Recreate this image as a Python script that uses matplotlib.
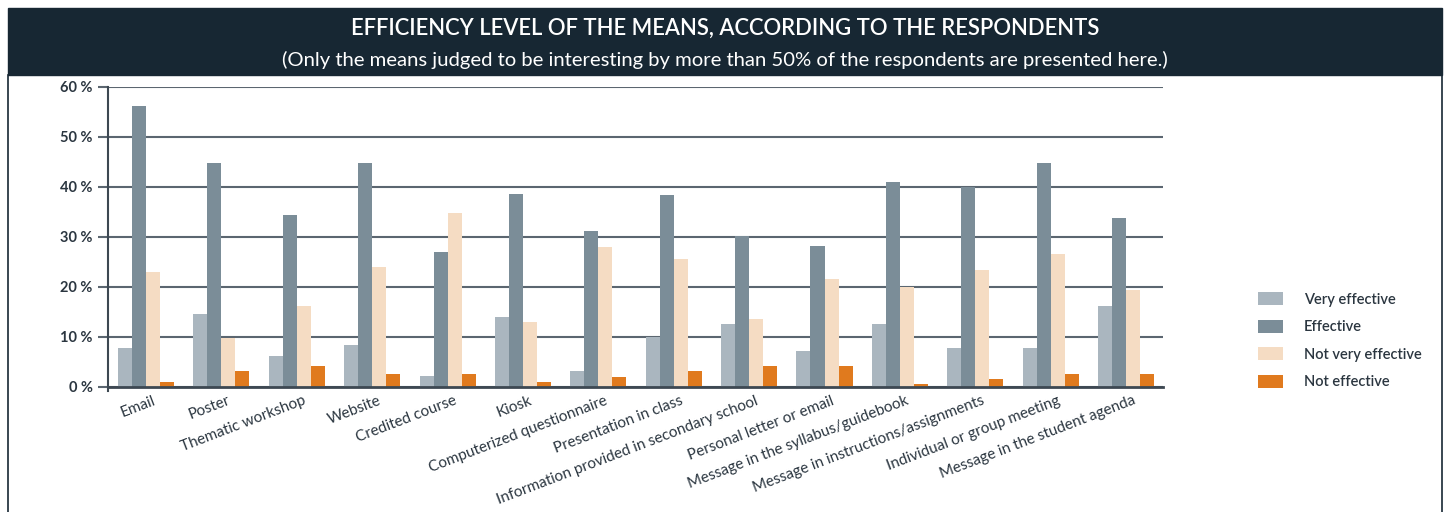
import matplotlib.pyplot as plt
import numpy as np
from matplotlib.patches import Rectangle

plt.rcParams['font.family'] = ['Lato', 'DejaVu Sans']

means = ['Email', 'Poster', 'Thematic workshop', 'Website', 'Credited course', 'Kiosk',
         'Computerized questionnaire', 'Presentation in class',
         'Information provided in secondary school', 'Personal letter or email',
         'Message in the syllabus/guidebook', 'Message in instructions/assignments',
         'Individual or group meeting', 'Message in the student agenda']
very_effective = [7.8, 14.5, 6.1, 8.3, 2.1, 13.9, 3.1, 9.9, 12.5, 7.1, 12.5, 7.7, 7.7, 16.1]
effective = [56.1, 44.7, 34.3, 44.7, 26.9, 38.5, 31.1, 38.3, 30.1, 28.1, 40.9, 39.9, 44.7, 33.7]
not_very_effective = [22.9, 9.7, 16.1, 23.9, 34.7, 12.9, 27.9, 25.5, 13.5, 21.5, 19.9, 23.3, 26.5, 19.3]
not_effective = [0.9, 3.1, 4.1, 2.5, 2.5, 0.9, 1.9, 3.1, 4.1, 4.1, 0.5, 1.5, 2.5, 2.5]

series = [('Very effective', very_effective, '#aab6bf'),
          ('Effective', effective, '#7b8d98'),
          ('Not very effective', not_very_effective, '#f5dcc3'),
          ('Not effective', not_effective, '#e07a1e')]

dark = '#172733'
text_col = '#2b3640'
grid_col = '#5b6670'

fig = plt.figure(figsize=(14.5, 5.12), dpi=100)

# header banner + side frame
fig.patches.append(Rectangle((8 / 1450, 1 - 75 / 512), 1434 / 1450, 67 / 512,
                             transform=fig.transFigure, color=dark, zorder=0))
fig.lines.append(plt.Line2D([8 / 1450, 8 / 1450], [0, 1 - 75 / 512],
                            transform=fig.transFigure, color=dark, lw=1.2))
fig.lines.append(plt.Line2D([1442 / 1450, 1442 / 1450], [0, 1 - 75 / 512],
                            transform=fig.transFigure, color=dark, lw=1.2))
fig.text(0.5, 1 - 28 / 512, 'EFFICIENCY LEVEL OF THE MEANS, ACCORDING TO THE RESPONDENTS',
         ha='center', va='center', color='white', fontsize=15.8, fontweight='semibold')
fig.text(0.5, 1 - 60 / 512,
         '(Only the means judged to be interesting by more than 50% of the respondents are presented here.)',
         ha='center', va='center', color='white', fontsize=14.6)

ax = fig.add_axes([108 / 1450, 125.3 / 512, 1055 / 1450, 300 / 512])

x = np.arange(len(means))
w = 0.186
for i, (name, vals, col) in enumerate(series):
    ax.bar(x + (i - 1.5) * w, vals, width=w, color=col, label=name, zorder=2)

ax.set_xlim(-0.504, 13.49)
ax.set_ylim(0, 60)
ax.set_yticks(range(0, 61, 10))
ax.set_yticklabels([f'{v} %' for v in range(0, 61, 10)], fontsize=10.5,
                   fontweight='bold', color=text_col)
ax.yaxis.grid(True, color=grid_col, lw=1.5, zorder=1)
ax.set_axisbelow(True)
ax.axhline(0, color='#3d4852', lw=2, zorder=3, clip_on=False)
ax.tick_params(axis='y', length=7, width=1.5, color=grid_col, pad=4)
ax.tick_params(axis='x', length=0, pad=5)

for s in ['top', 'right', 'bottom']:
    ax.spines[s].set_visible(False)
ax.spines['left'].set_color('#3d4852')
ax.spines['left'].set_linewidth(1.5)
ax.spines['left'].set_bounds(-0.8, 60)

ax.set_xticks(x + 0.08)
ax.set_xticklabels(means, rotation=21, ha='right', rotation_mode='anchor',
                   fontsize=11, color=text_col)

fig.legend(loc='upper left', bbox_to_anchor=(1258 / 1450, 1 - 292 / 512), frameon=False,
           borderpad=0, borderaxespad=0,
           prop={'size': 10.5, 'weight': 'semibold'}, labelcolor=text_col,
           handlelength=1.7, handleheight=1.0, handletextpad=1.45, labelspacing=0.9)

fig.savefig('out.png', dpi=100)
